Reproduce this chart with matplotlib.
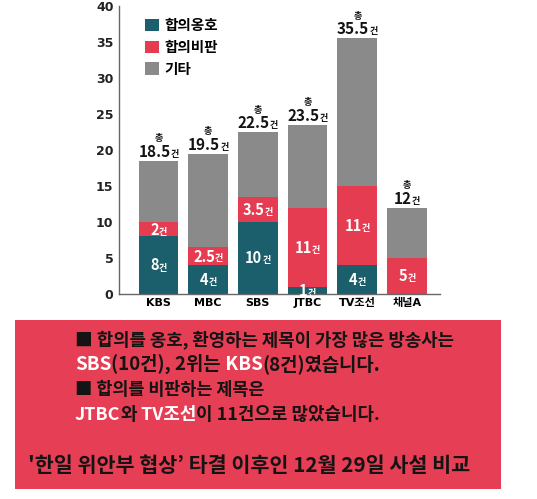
import matplotlib
matplotlib.use('Agg')
import matplotlib.pyplot as plt
from matplotlib.patches import Patch, Rectangle

plt.rcParams['font.family'] = ['Noto Sans CJK KR', 'DejaVu Sans']

# data
channels = ['KBS', 'MBC', 'SBS', 'JTBC', 'TV조선', '채널A']
support = [8, 4, 10, 1, 4, 0]
critic = [2, 2.5, 3.5, 11, 11, 5]
other = [8.5, 13, 9, 11.5, 20.5, 7]
totals = [18.5, 19.5, 22.5, 23.5, 35.5, 12]
series_names = ['합의옹호', '합의비판', '기타']
yticks = [0, 5, 10, 15, 20, 25, 30, 35, 40]

TEAL = '#1b5f6c'
RED = '#e63c52'
GRAY = '#8a8a8a'
BOX = '#e63e54'
INK = '#141414'

W, H = 537, 499
fig = plt.figure(figsize=(W / 100, H / 100), dpi=100)
ax = fig.add_axes([119 / W, 1 - 294 / H, 321 / W, 288 / H])

x = list(range(len(channels)))
mid = [a + b for a, b in zip(support, critic)]
ax.bar(x, support, 0.8, color=TEAL)
ax.bar(x, critic, 0.8, bottom=support, color=RED)
ax.bar(x, other, 0.8, bottom=mid, color=GRAY)

ax.set_xlim(-0.795, 5.664)
ax.set_ylim(0, 40)
ax.set_yticks(yticks)
ax.set_xticks(x)
ax.set_xticklabels(channels, family=['DejaVu Sans', 'Noto Sans CJK KR'],
                   fontweight='bold', fontsize=8)
ax.set_yticklabels([str(v) for v in yticks], family=['DejaVu Sans'],
                   fontweight='bold', fontsize=9, color='#222222')
ax.tick_params(axis='both', length=0)
ax.tick_params(axis='y', pad=4)
ax.tick_params(axis='x', pad=3)
for s in ['top', 'right']:
    ax.spines[s].set_visible(False)
for s in ['left', 'bottom']:
    ax.spines[s].set_color('#666666')
    ax.spines[s].set_linewidth(1)

handles = [Patch(facecolor=c, linewidth=0) for c in [TEAL, RED, GRAY]]
ax.legend(handles, series_names, loc='upper left',
          bbox_to_anchor=(145 / W, 1 - 17 / H), bbox_transform=fig.transFigure,
          frameon=False, prop={'size': 10.5, 'weight': 'bold'},
          handlelength=0.95, handleheight=0.95, handletextpad=0.4,
          labelspacing=0.4, borderpad=0, borderaxespad=0)

r = fig.canvas.get_renderer()


def rich(px, py, parts, ha='left', fit=None, weight='bold'):
    # parts: (text, size, color); px, py in pixels from bottom-left, py = baseline
    # fit: target width in pixels, font sizes are scaled to reach it
    ts = []
    for s, size, color in parts:
        t = fig.text(0, 0, s, fontsize=size, color=color, fontweight=weight,
                     va='baseline', ha='left')
        ts.append(t)
    ws = [t.get_window_extent(r).width for t in ts]
    if fit:
        k = fit / sum(ws)
        for t, (s, size, color) in zip(ts, parts):
            t.set_fontsize(size * k)
        ws = [t.get_window_extent(r).width for t in ts]
    cx = px - sum(ws) / 2 if ha == 'center' else px
    for t, w in zip(ts, ws):
        t.set_position((cx / W, py / H))
        cx += w


def fmt(v):
    return ('%g' % v)


# segment labels
for i in x:
    for vals, b in [(support[i], 0), (critic[i], support[i])]:
        if vals <= 0:
            continue
        cx, cy = ax.transData.transform((i, b + vals / 2))
        rich(cx, cy - 5.3, [(fmt(vals), 10.5, 'white'), ('건', 6.5, 'white')], ha='center')
    # totals above bars
    cx, top = ax.transData.transform((i, totals[i]))
    rich(cx, top + 4, [(fmt(totals[i]), 11, INK), ('건', 6.5, INK)], ha='center')
    rich(cx, top + 19.5, [('총', 6.5, INK)], ha='center')

# red summary box
fig.patches.append(Rectangle((15 / W, 1 - 489 / H), 486 / W, 169 / H,
                             transform=fig.transFigure, facecolor=BOX,
                             edgecolor='none', zorder=0))

lines = [
    [('■ 합의를 옹호, 환영하는 제목이 가장 많은 방송사는', 12, INK)],
    [('SBS', 12, 'white'), ('(10건), 2위는', 12, INK), (' KBS', 12, 'white'),
     ('(8건)였습니다.', 12, INK)],
    [('■ 합의를 비판하는 제목은', 12, INK)],
    [('JTBC', 12, 'white'), ('와', 12, INK), (' TV조선', 12, 'white'),
     ('이 11건으로 많았습니다.', 12, INK)],
]
line_widths = [380, 305, 190, 305]
for k, parts in enumerate(lines):
    rich(75, H - (345 + 25 * k), parts, fit=line_widths[k], weight='black')

rich(28, H - 472, [("'한일 위안부 협상’ 타결 이후인 12월 29일 사설 비교", 14, INK)],
     fit=442, weight='black')

fig.savefig('out.png', dpi=100)
